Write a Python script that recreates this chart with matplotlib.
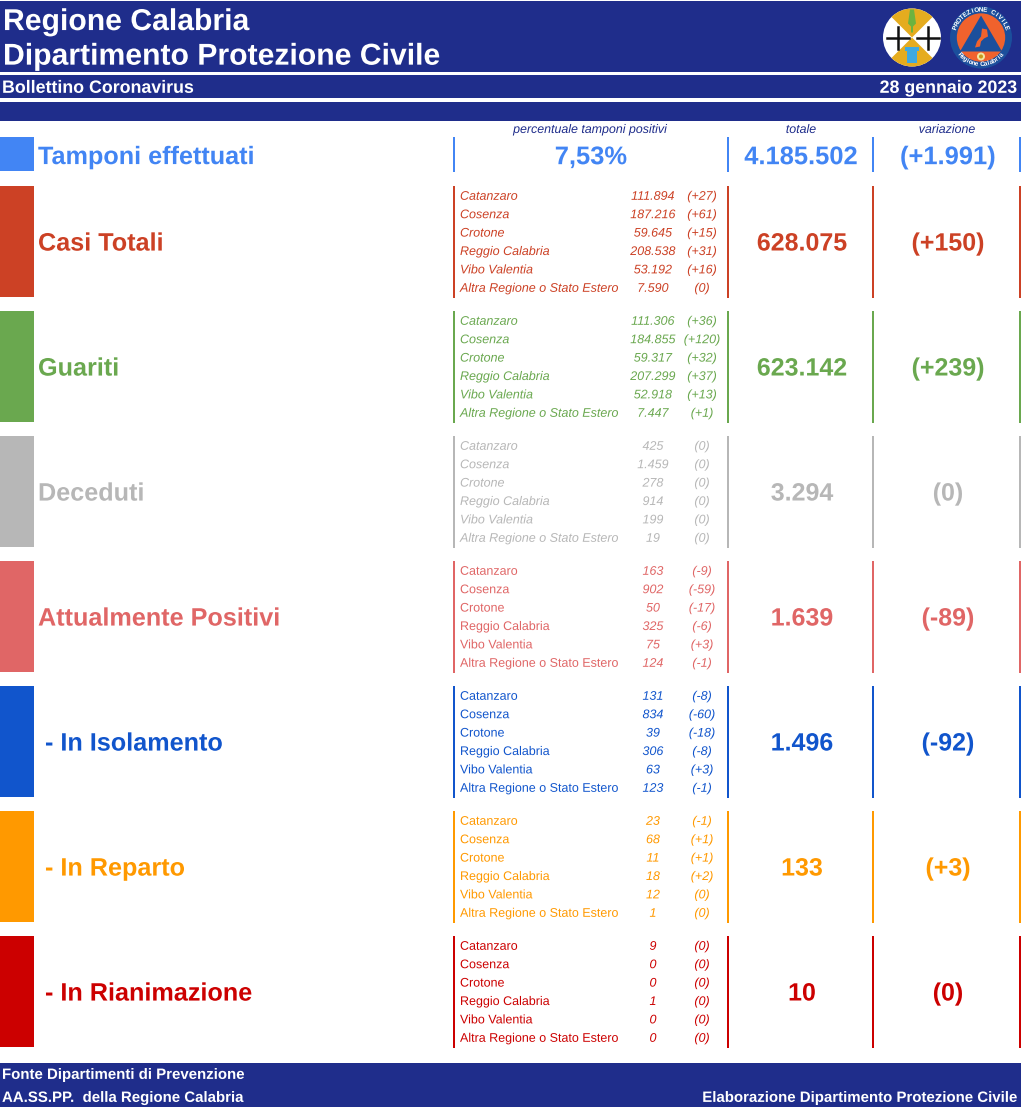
import math
import matplotlib
matplotlib.use('Agg')
import matplotlib.pyplot as plt
import matplotlib.patheffects as pe
from matplotlib.patches import Rectangle, Circle, Polygon, Wedge

plt.rcParams['font.family'] = ['Liberation Sans', 'DejaVu Sans']

# dati del bollettino
province = ['Catanzaro', 'Cosenza', 'Crotone', 'Reggio Calabria', 'Vibo Valentia',
            'Altra Regione o Stato Estero']
titoli = ['Casi Totali', 'Guariti', 'Deceduti', 'Attualmente Positivi',
          ' - In Isolamento', ' - In Reparto', ' - In Rianimazione']
colori = ['#CC4125', '#6AA84F', '#B7B7B7', '#E06666', '#1155CC', '#FF9900', '#CC0000']
totali = ['628.075', '623.142', '3.294', '1.639', '1.496', '133', '10']
variazioni = ['(+150)', '(+239)', '(0)', '(-89)', '(-92)', '(+3)', '(0)']

casi_val = ['111.894', '187.216', '59.645', '208.538', '53.192', '7.590']
casi_var = ['(+27)', '(+61)', '(+15)', '(+31)', '(+16)', '(0)']
guariti_val = ['111.306', '184.855', '59.317', '207.299', '52.918', '7.447']
guariti_var = ['(+36)', '(+120)', '(+32)', '(+37)', '(+13)', '(+1)']
deceduti_val = ['425', '1.459', '278', '914', '199', '19']
deceduti_var = ['(0)', '(0)', '(0)', '(0)', '(0)', '(0)']
positivi_val = ['163', '902', '50', '325', '75', '124']
positivi_var = ['(-9)', '(-59)', '(-17)', '(-6)', '(+3)', '(-1)']
isolamento_val = ['131', '834', '39', '306', '63', '123']
isolamento_var = ['(-8)', '(-60)', '(-18)', '(-8)', '(+3)', '(-1)']
reparto_val = ['23', '68', '11', '18', '12', '1']
reparto_var = ['(-1)', '(+1)', '(+1)', '(+2)', '(0)', '(0)']
rianimazione_val = ['9', '0', '0', '1', '0', '0']
rianimazione_var = ['(0)', '(0)', '(0)', '(0)', '(0)', '(0)']

valori = [casi_val, guariti_val, deceduti_val, positivi_val,
          isolamento_val, reparto_val, rianimazione_val]
delta = [casi_var, guariti_var, deceduti_var, positivi_var,
         isolamento_var, reparto_var, rianimazione_var]
nomi_corsivi = [True, True, True, False, False, False, False]

NAVY = '#1F2D8B'
BLU = '#4285F4'
LINEE_X = [454, 728, 873, 1020]


def px(size):
    return size * 0.72


def scritta(ax, x, y, s, size, color, ha='left', bold=False, italic=False):
    # y e' il centro delle maiuscole; come tracciato il testo non salta tra le righe
    ax.text(x, y + size * 0.36, s, fontsize=px(size), color=color, ha=ha, va='baseline',
            fontweight='bold' if bold else 'normal',
            fontstyle='italic' if italic else 'normal',
            path_effects=[pe.Normal()])


def linee(ax, top, bottom, color):
    for x in LINEE_X:
        ax.add_patch(Rectangle((x - 1.4, top), 2.8, bottom - top, color=color, lw=0))


def arco(ax, cx, cy, r, s, centro, passo, sopra=True):
    # testo curvo lungo il bordo del logo, lettera per lettera
    for k, c in enumerate(s):
        off = (k - (len(s) - 1) / 2) * passo
        ang = math.radians(centro + off if sopra else centro - off)
        x = cx + r * math.sin(ang)
        y = cy - r * math.cos(ang)
        rot = -(centro + off) if sopra else 180 - (centro - off)
        ax.text(x, y, c, fontsize=4.6, color='white', fontweight='bold', rotation=rot,
                rotation_mode='anchor', ha='center', va='center', zorder=7,
                path_effects=[pe.Normal()])


def stemma(ax, cx, cy, r):
    # stemma regione
    ax.add_patch(Circle((cx, cy), r, color='white', lw=0, zorder=3))
    giallo = '#E5AC1F'
    ax.add_patch(Wedge((cx, cy), r, 225, 315, color=giallo, lw=0, zorder=4))
    ax.add_patch(Wedge((cx, cy), r, 45, 135, color=giallo, lw=0, zorder=4))
    ax.add_patch(Rectangle((cx - 7, cy + 9), 14, 4, color='#3FA9E0', lw=0, zorder=5))
    ax.add_patch(Rectangle((cx - 5, cy + 13), 10, 12, color='#3FA9E0', lw=0, zorder=5))
    ax.add_patch(Polygon([(cx - 2, cy - 28), (cx + 2, cy - 28), (cx + 4, cy - 14), (cx + 1, cy - 11),
                          (cx + 1, cy - 5), (cx - 1, cy - 5), (cx - 1, cy - 11), (cx - 4, cy - 14)],
                         color='#6DB33F', lw=0, zorder=5))
    for dx in (-14.5, 15.5):
        ax.plot([cx + dx - 11, cx + dx + 11], [cy, cy], color='#111111', lw=1.8, zorder=5)
        ax.plot([cx + dx, cx + dx], [cy - 11, cy + 11], color='#111111', lw=1.8, zorder=5)


def logo_protezione(ax, cx, cy, r):
    ax.add_patch(Circle((cx, cy), r, color='#1B4F9C', lw=0, zorder=3))
    ax.add_patch(Circle((cx, cy), r * 0.78, color='#F0622D', lw=0, zorder=4))
    ax.add_patch(Polygon([(cx, cy - 22), (cx + 21, cy + 14), (cx - 21, cy + 14)],
                         color='#1B4F9C', lw=0, zorder=5))
    ax.add_patch(Polygon([(cx + 1, cy - 9), (cx + 6, cy - 8), (cx + 7, cy - 1), (cx + 3, cy + 1),
                          (cx, cy + 4), (cx - 1, cy + 9), (cx - 6, cy + 10), (cx - 4, cy + 4),
                          (cx, cy - 1)], color='#F0622D', lw=0, zorder=6))
    ax.add_patch(Circle((cx, cy + 19), 4, color='#F2E6A0', lw=0, zorder=6))
    ax.add_patch(Circle((cx, cy + 19), 2, color='#C79A1C', lw=0, zorder=7))
    arco(ax, cx, cy, 27.5, 'PROTEZIONE CIVILE', 0, 8.8)
    arco(ax, cx, cy, 27, 'Regione Calabria', 180, 6.5, sopra=False)


def main():
    fig = plt.figure(figsize=(10.24, 11.07), dpi=100)
    ax = fig.add_axes([0, 0, 1, 1])
    ax.set_xlim(0, 1024)
    ax.set_ylim(1107, 0)
    ax.axis('off')

    # intestazione
    ax.add_patch(Rectangle((0, 1), 1021, 70.5, color=NAVY, lw=0))
    ax.add_patch(Rectangle((0, 74.5), 1021, 23.5, color=NAVY, lw=0))
    ax.add_patch(Rectangle((0, 101.5), 1021, 19.5, color=NAVY, lw=0))
    scritta(ax, 3, 19.2, 'Regione Calabria', 30.15, 'white', bold=True)
    scritta(ax, 3, 53.8, 'Dipartimento Protezione Civile', 30.15, 'white', bold=True)
    scritta(ax, 2, 86.4, 'Bollettino Coronavirus', 17.8, 'white', bold=True)
    scritta(ax, 1017, 86.4, '28 gennaio 2023', 17.8, 'white', ha='right', bold=True)
    stemma(ax, 912, 37.5, 29)
    logo_protezione(ax, 981, 37.5, 31)

    # riga tamponi
    scritta(ax, 590, 128.5, 'percentuale tamponi positivi', 12.4, NAVY, ha='center', italic=True)
    scritta(ax, 801, 128.5, 'totale', 12.4, NAVY, ha='center', italic=True)
    scritta(ax, 947, 128.5, 'variazione', 12.4, NAVY, ha='center', italic=True)
    ax.add_patch(Rectangle((0, 137), 34, 34, color=BLU, lw=0))
    linee(ax, 137, 172, BLU)
    scritta(ax, 38, 155, 'Tamponi effettuati', 25.2, BLU, bold=True)
    scritta(ax, 591, 155, '7,53%', 25.5, BLU, ha='center', bold=True)
    scritta(ax, 801, 155, '4.185.502', 25.5, BLU, ha='center', bold=True)
    scritta(ax, 948, 155, '(+1.991)', 25.5, BLU, ha='center', bold=True)

    # blocchi
    for i, titolo in enumerate(titoli):
        top = 186 + 125 * i
        col = colori[i]
        ax.add_patch(Rectangle((0, top), 34, 111, color=col, lw=0))
        linee(ax, top, top + 112, col)
        scritta(ax, 38, top + 55.5, titolo, 25.2, col, bold=True)
        scritta(ax, 802, top + 55.5, totali[i], 25, col, ha='center', bold=True)
        scritta(ax, 948, top + 55.5, variazioni[i], 25, col, ha='center', bold=True)
        for j, nome in enumerate(province):
            y = top + 9.3 + 18.4 * j
            scritta(ax, 460, y, nome, 12.5, col, italic=nomi_corsivi[i])
            scritta(ax, 653, y, valori[i][j], 12.5, col, ha='center', italic=True)
            scritta(ax, 702, y, delta[i][j], 12.5, col, ha='center', italic=True)

    # piede
    ax.add_patch(Rectangle((0, 1063), 1021, 44, color=NAVY, lw=0))
    scritta(ax, 2, 1073.5, 'Fonte Dipartimenti di Prevenzione', 15, 'white', bold=True)
    scritta(ax, 2, 1096.5, 'AA.SS.PP.  della Regione Calabria', 15, 'white', bold=True)
    scritta(ax, 1017, 1096.5, 'Elaborazione Dipartimento Protezione Civile', 15, 'white',
            ha='right', bold=True)

    fig.savefig('out.png', dpi=100)
    plt.close(fig)


if __name__ == "__main__":
    main()
